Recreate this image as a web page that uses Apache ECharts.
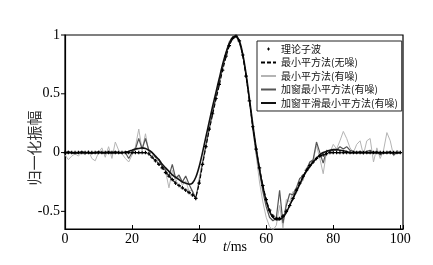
<!DOCTYPE html>
<html lang="zh">
<head>
  <meta charset="UTF-8">
  <title>子波提取对比</title>
  <script src="https://cdn.jsdelivr.net/npm/echarts@6/dist/echarts.min.js"></script>
  <style>
    html, body { margin: 0; padding: 0; background: #fff; }
  </style>
</head>
<body>
  <div id="main" style="width: 433px;height:265px;"></div>
  <script>
    // 时间轴 0..100 ms, 步长 1 ms
    var times = [];
    for (var i = 0; i <= 100; i++) times.push(i);

    var legendNames = ['理论子波', '最小平方法(无噪)', '最小平方法(有噪)', '加窗最小平方法(有噪)', '加窗平滑最小平方法(有噪)'];
    var xTicks = [0, 20, 40, 60, 80, 100];
    var yTicks = [-0.5, 0, 0.5, 1];

    // 理论子波
    var theory = [
      0, 0, 0, 0, 0, 0, 0, 0, 0, 0,
      0, 0, 0, 0, 0, 0, 0, 0, 0, 0,
      0, 0, 0, 0, 0, -0.01, -0.04, -0.07, -0.1, -0.13,
      -0.17, -0.2, -0.23, -0.26, -0.28, -0.3, -0.32, -0.34, -0.36, -0.39,
      -0.26, -0.1, 0.05, 0.2, 0.33, 0.46, 0.58, 0.7, 0.82, 0.91,
      0.97, 0.99, 0.95, 0.83, 0.65, 0.44, 0.22, 0.03, -0.13, -0.28,
      -0.4, -0.49, -0.54, -0.56, -0.56, -0.54, -0.5, -0.45, -0.39, -0.32,
      -0.26, -0.2, -0.15, -0.11, -0.08, -0.05, -0.03, -0.02, -0.01, 0,
      0, 0, 0, 0, 0, 0, 0, 0, 0, 0,
      0, 0, 0, 0, 0, 0, 0, 0, 0, 0,
      0
    ];
    // 最小平方法(无噪) —— 与理论子波几乎重合
    var lsClean = [
      0, 0, 0, 0, 0, 0, 0, 0, 0, 0,
      0, 0, 0, 0, 0, 0, 0, 0, 0, 0,
      0, 0, 0, 0, 0, -0.01, -0.04, -0.07, -0.1, -0.13,
      -0.17, -0.2, -0.23, -0.26, -0.28, -0.3, -0.32, -0.34, -0.36, -0.38,
      -0.27, -0.11, 0.05, 0.19, 0.32, 0.45, 0.57, 0.7, 0.81, 0.91,
      0.97, 0.99, 0.95, 0.83, 0.65, 0.44, 0.22, 0.03, -0.13, -0.28,
      -0.4, -0.49, -0.54, -0.56, -0.56, -0.54, -0.5, -0.45, -0.39, -0.32,
      -0.26, -0.2, -0.15, -0.11, -0.08, -0.05, -0.03, -0.02, -0.01, 0,
      0, 0, 0, 0, 0, 0, 0, 0, 0, 0,
      0, 0, 0, 0, 0, 0, 0, 0, 0, 0,
      0
    ];
    // 最小平方法(有噪)
    var lsNoisy = [
      -0.02, -0.06, -0.03, -0.01, -0.03, 0, -0.02, 0.02, -0.05, -0.07,
      0, 0.04, -0.04, 0.05, -0.05, 0.09, 0.02, -0.01, -0.05, -0.08,
      -0.02, 0.05, 0.2, 0.02, 0.16, 0, 0, -0.04, -0.1, -0.1,
      -0.16, -0.3, -0.15, -0.25, -0.2, -0.28, -0.24, -0.33, -0.32, -0.4,
      -0.22, -0.08, 0.05, 0.2, 0.35, 0.46, 0.6, 0.72, 0.85, 0.95,
      0.97, 1.0, 0.93, 0.84, 0.66, 0.45, 0.22, -0.02, -0.25, -0.42,
      -0.55, -0.63, -0.66, -0.62, -0.45, -0.64, -0.4, -0.42, -0.33, -0.35,
      -0.25, -0.24, -0.13, -0.09, -0.07, 0.06, -0.05, -0.18, 0.01, 0,
      0.07, 0.03, 0.1, 0.18, 0.12, 0.04, 0, 0.07, 0.1, -0.02,
      0.1, 0.12, -0.08, 0.04, -0.05, 0.02, 0.17, 0.1, -0.03, 0.02,
      0
    ];
    // 加窗最小平方法(有噪)
    var winNoisy = [
      0, 0.01, 0, -0.01, 0, 0.01, 0, 0, -0.01, 0,
      0.01, 0, 0, 0.01, 0, 0.01, 0, 0, 0, -0.05,
      0, 0.03, 0.12, 0.03, 0.12, 0.02, 0, -0.04, -0.06, -0.12,
      -0.15, -0.2, -0.1, -0.22, -0.19, -0.25, -0.2, -0.27, -0.33, -0.39,
      -0.25, -0.09, 0.06, 0.2, 0.34, 0.47, 0.6, 0.72, 0.84, 0.93,
      0.98, 0.99, 0.94, 0.83, 0.65, 0.44, 0.2, 0, -0.16, -0.33,
      -0.46, -0.55, -0.58, -0.56, -0.32, -0.6, -0.45, -0.35, -0.36, -0.3,
      -0.22, -0.2, -0.15, -0.08, -0.06, 0.09, 0, -0.09, 0.02, 0.01,
      0.02, 0.02, 0.05, 0.03, 0.05, 0.02, 0.01, 0, 0.01, 0,
      0.01, 0.02, 0, 0.01, -0.02, 0, 0, 0.01, -0.02, 0,
      0
    ];
    // 加窗平滑最小平方法(有噪)
    var winSmooth = [
      0, 0, 0, 0, 0, 0, 0, 0, 0, 0,
      0, 0, 0, 0, 0, 0, 0, 0, 0.005, 0.01,
      0.02, 0.03, 0.035, 0.04, 0.035, 0.02, 0, -0.03, -0.06, -0.1,
      -0.13, -0.16, -0.19, -0.21, -0.23, -0.25, -0.26, -0.27, -0.26, -0.21,
      -0.12, 0, 0.13, 0.26, 0.39, 0.51, 0.63, 0.75, 0.85, 0.93,
      0.98, 0.99, 0.95, 0.84, 0.67, 0.46, 0.24, 0.04, -0.14, -0.29,
      -0.41, -0.5, -0.55, -0.57, -0.57, -0.55, -0.51, -0.45, -0.39, -0.33,
      -0.27, -0.21, -0.16, -0.12, -0.08, -0.05, -0.02, 0, 0.01, 0.02,
      0.025, 0.025, 0.02, 0.015, 0.01, 0, 0, 0, 0, 0,
      0, 0, 0, 0, 0, 0, 0, 0, 0, 0,
      0
    ];

    function pair(arr) {
      return times.map(function (t, k) { return [t, arr[k]]; });
    }

    var serifFont = '"Liberation Serif", "DejaVu Serif", serif';
    var cjkFont = '"Noto Sans CJK SC", sans-serif';
    var plusIcon = 'path://M-1,-3H1V-1H3V1H1V3H-1V1H-3V-1H-1Z';
    // 图例里的小十字，四角放空点撑出图标框
    var legendPlus = 'path://M0,0L0.01,0L0,0.01Z M15,10L14.99,10L15,9.99Z M6,4.5H7V3.5H8V4.5H9V5.5H8V6.5H7V5.5H6Z';

    // 图例：线条项隐藏符号，理论子波只显示符号
    var legendData = legendNames.map(function (n, k) {
      if (k === 0) return { name: n, icon: legendPlus };
      return { name: n, itemStyle: { opacity: 0 } };
    });

    var myChart = echarts.init(document.getElementById('main'));
    var option = {
      animation: false,
      backgroundColor: '#fff',
      grid: {
        left: 65, right: 30, top: 35, bottom: 36,
        show: true, borderColor: '#000', borderWidth: 1.2
      },
      xAxis: {
        type: 'value',
        min: 0, max: 100.8, interval: 20,
        axisLine: { onZero: false, lineStyle: { color: '#000', width: 1.2 } },
        axisTick: { inside: true, length: 4, lineStyle: { color: '#000' } },
        axisLabel: {
          color: '#000', fontFamily: serifFont, fontSize: 14, margin: 3,
          formatter: function (v) { return xTicks.indexOf(v) >= 0 ? String(v) : ''; }
        },
        splitLine: { show: false }
      },
      yAxis: {
        type: 'value',
        min: -0.65, max: 1, interval: 0.05,
        axisLine: { lineStyle: { color: '#000', width: 1.2 } },
        axisTick: { show: false },
        axisLabel: {
          color: '#000', fontFamily: serifFont, fontSize: 14, margin: 5,
          formatter: function (v) {
            for (var k = 0; k < yTicks.length; k++) {
              if (Math.abs(yTicks[k] - v) < 1e-6) return String(yTicks[k]);
            }
            return '';
          }
        },
        splitLine: { show: false }
      },
      legend: {
        orient: 'vertical',
        left: 257, top: 41,
        data: legendData,
        backgroundColor: '#fff',
        borderColor: '#222', borderWidth: 1,
        padding: [3, 4, 3, 3],
        itemGap: 3.5,
        itemWidth: 15, itemHeight: 10,
        textStyle: { fontFamily: cjkFont, fontSize: 10, color: '#111' }
      },
      graphic: [
        {
          type: 'text', x: 34, y: 148, rotation: Math.PI / 2,
          style: {
            text: '归一化振幅', fontFamily: cjkFont, fontSize: 15, fill: '#333',
            align: 'center', verticalAlign: 'middle'
          }
        },
        {
          type: 'text', x: 235, y: 247,
          style: {
            text: '{i|t}/ms', align: 'center', verticalAlign: 'middle',
            fontFamily: serifFont, fontSize: 14, fill: '#000',
            rich: { i: { fontStyle: 'italic', fontFamily: serifFont, fontSize: 14 } }
          }
        },
        // y 轴外侧刻度
        {
          type: 'group', children: yTicks.map(function (v) {
            return {
              type: 'line', z: 10,
              shape: { x1: 61, y1: 0, x2: 65, y2: 0 },
              position: [0, 35 + (1 - v) / 1.65 * 194],
              style: { stroke: '#000', lineWidth: 1 }
            };
          })
        }
      ],
      series: [
        {
          name: '最小平方法(有噪)', type: 'line', data: pair(lsNoisy), z: 2,
          showSymbol: false, symbol: 'none',
          lineStyle: { color: '#b4b4b4', width: 1 }, itemStyle: { color: '#b4b4b4' }
        },
        {
          name: '加窗最小平方法(有噪)', type: 'line', data: pair(winNoisy), z: 3,
          showSymbol: false, symbol: 'none',
          lineStyle: { color: '#555', width: 1.2 }, itemStyle: { color: '#555' }
        },
        {
          name: '加窗平滑最小平方法(有噪)', type: 'line', data: pair(winSmooth), z: 4,
          showSymbol: false, symbol: 'none', smooth: 0.3,
          lineStyle: { color: '#111', width: 1.6 }, itemStyle: { color: '#111' }
        },
        {
          name: '最小平方法(无噪)', type: 'line', data: pair(lsClean), z: 5,
          showSymbol: false, symbol: 'none',
          lineStyle: { color: '#000', width: 1.1, type: [4, 2] }, itemStyle: { color: '#000' }
        },
        {
          name: '理论子波', type: 'line', data: pair(theory), z: 6,
          symbol: plusIcon, symbolSize: 3.5, showSymbol: true,
          lineStyle: { color: '#000', width: 0, opacity: 0 }, itemStyle: { color: '#000' }
        }
      ]
    };
    myChart.setOption(option);
  </script>
</body>
</html>
